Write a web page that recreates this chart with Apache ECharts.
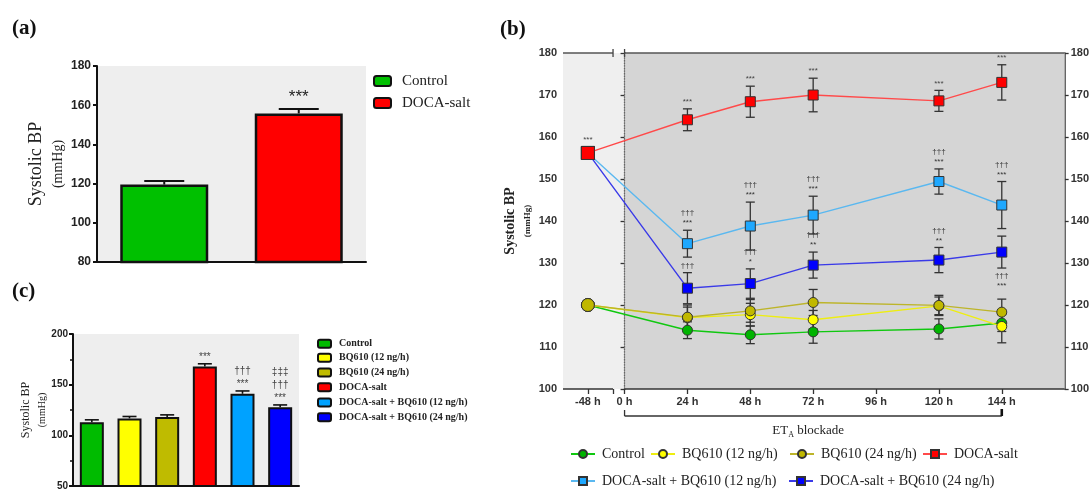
<!DOCTYPE html>
<html>
<head>
<meta charset="utf-8">
<script src="https://cdn.jsdelivr.net/npm/echarts@6/dist/echarts.min.js"></script>
<style>
html, body { margin: 0; padding: 0; background: #fff; }
#chart { width: 1092px; height: 491px; }
</style>
</head>
<body>
<div id="chart"></div>
<script>
// (a) baseline systolic BP
const groupsA = ['Control', 'DOCA-salt'];
const meanA = [119.5, 155.8];
const semA = [1.8, 2.3];
const sigA = ['', '***'];
const colorsA = ['#00c000', '#ff0000'];

// (c) after 6 days of treatment
const groupsC = ['Control', 'BQ610 (12 ng/h)', 'BQ610 (24 ng/h)', 'DOCA-salt',
  'DOCA-salt + BQ610 (12 ng/h)', 'DOCA-salt + BQ610 (24 ng/h)'];
const meanC = [113.0, 116.7, 118.0, 168.0, 141.0, 127.8];
const semC = [2.3, 1.9, 2.2, 2.6, 2.8, 2.2];
const sigC = ['', '', '', '***', '†††\n***', '‡‡‡\n†††\n***'];
const colorsC = ['#00bb00', '#ffff00', '#bfbb00', '#ff0000', '#00a2ff', '#0000ff'];

// (b) time course
const hours = [-48, 24, 48, 72, 120, 144];
const hourTicks = [-48, 0, 24, 48, 72, 96, 120, 144];
const control = [120.0, 114.0, 112.9, 113.6, 114.3, 115.7];
const controlSem = [0.5, 2.0, 2.1, 2.7, 2.4, 2.0];
const bq12 = [120.0, 117.0, 117.7, 116.5, 119.8, 114.9];
const bq12Sem = [0.5, 2.5, 2.7, 2.2, 2.1, 3.9];
const bq24 = [120.0, 117.1, 118.6, 120.6, 119.9, 118.3];
const bq24Sem = [0.5, 2.9, 2.7, 3.1, 2.4, 3.1];
const doca = [156.2, 164.1, 168.4, 170.0, 168.6, 173.0];
const docaSem = [1.5, 2.6, 3.7, 4.0, 2.5, 4.2];
const docaBq12 = [156.2, 134.6, 138.8, 141.4, 149.4, 143.8];
const docaBq12Sem = [1.0, 3.2, 5.7, 4.5, 3.0, 5.6];
const docaBq24 = [156.2, 124.0, 125.1, 129.5, 130.7, 132.6];
const docaBq24Sem = [1.0, 3.7, 3.5, 3.1, 3.0, 3.8];
const docaSig = ['***', '***', '***', '***', '***', '***'];
const docaBq12Sig = ['', '†††\n***', '†††\n***', '†††\n***', '†††\n***', '†††\n***'];
const docaBq24Sig = ['', '†††', '†††\n*', '†††\n**', '†††\n**', '†††\n***'];
const docaBq24SigBelow = [0, 0, 0, 0, 0, 1];

// broken time axis: -48 h sits in the small pre-treatment slot
const X_MIN = -23.5, X_MAX = 168, SLOT_48 = -14, BREAK_AT = -4.4;
const pos = h => (h < 0 ? SLOT_48 : h);

const SERIF = 'Liberation Serif';
const SANS = 'Liberation Sans';

// each panel gets its own series names so every legend finds its own series
const tag = (p, n) => p + ':' + n;
const untag = n => n.replace(/^[abc]:/, '');

const chart = echarts.init(document.getElementById('chart'));

function errBars(xIdx, yIdx, xs, means, sems, sigs, o) {
  return {
    type: 'custom', xAxisIndex: xIdx, yAxisIndex: yIdx, z: o.z || 4,
    silent: true, animation: false,
    data: xs.map((x, i) => [x, means[i], sems[i]]),
    encode: { x: 0, y: 1 },
    renderItem(params, api) {
      const i = params.dataIndex;
      const x = api.value(0), m = api.value(1), e = api.value(2);
      const top = api.coord([x, m + e]);
      const bot = api.coord([x, o.upOnly ? m : m - e]);
      const w = o.cap / 2;
      const st = { stroke: o.color, lineWidth: o.lw };
      const ch = [
        { type: 'line', shape: { x1: top[0], y1: top[1], x2: bot[0], y2: bot[1] }, style: st },
        { type: 'line', shape: { x1: top[0] - w, y1: top[1], x2: top[0] + w, y2: top[1] }, style: st }
      ];
      if (!o.upOnly) {
        ch.push({ type: 'line', shape: { x1: bot[0] - w, y1: bot[1], x2: bot[0] + w, y2: bot[1] }, style: st });
      }
      const s = sigs && sigs[i];
      if (s) {
        const below = o.below && o.below[i];
        ch.push({
          type: 'text',
          style: {
            text: s, x: top[0], y: below ? bot[1] + 3 : top[1] - o.sigGap,
            align: 'center', verticalAlign: below ? 'top' : 'bottom',
            fontSize: o.sigSize, fontFamily: SANS, fontWeight: o.sigWeight || 'normal',
            fill: o.sigColor, lineHeight: o.sigLh
          }
        });
      }
      return { type: 'group', children: ch };
    }
  };
}

function timeLine(name, vals, fill, lineColor, symbol, z) {
  return {
    name: tag('b', name), type: 'line', xAxisIndex: 2, yAxisIndex: 2, z: z,
    data: hours.map((h, i) => [pos(h), vals[i]]),
    symbol, symbolSize: (v, p) => (p.dataIndex === 0 ? 13 : 10),
    itemStyle: { color: fill, borderColor: '#333', borderWidth: 1 },
    lineStyle: { color: lineColor, width: 1.4 },
    emphasis: { disabled: true }
  };
}

function legendAt(name, left, top, o) {
  return Object.assign({
    data: [name], left, top, padding: 0, selectedMode: false, formatter: untag
  }, o);
}

const legA = { itemWidth: 17, itemHeight: 10, textStyle: { fontFamily: SERIF, fontSize: 15, color: '#222', padding: [0, 0, 0, 6] } };
const legC = { itemWidth: 13, itemHeight: 8, textStyle: { fontFamily: SERIF, fontSize: 10, fontWeight: 'bold', color: '#222', padding: [0, 0, 0, 3] } };
const legB = { itemWidth: 24, itemHeight: 10, textStyle: { fontFamily: SERIF, fontSize: 14, color: '#222', padding: [0, 0, 0, 2] } };
const rowsC = [344.3, 358.3, 373, 387.7, 403, 417.7];

const option = {
  animation: false,
  grid: [
    { left: 97, top: 66, width: 269, height: 196, show: true, backgroundColor: '#eeeeee', borderWidth: 0 },
    { left: 73, top: 334, width: 226, height: 153, show: true, backgroundColor: '#eeeeee', borderWidth: 0 },
    { left: 563, top: 53, width: 504, height: 336, show: true, backgroundColor: '#efefef', borderWidth: 0 }
  ],
  legend: [
    legendAt(tag('a', groupsA[0]), 373, 73.5, legA),
    legendAt(tag('a', groupsA[1]), 373, 95.5, legA),
    ...groupsC.map((g, i) => legendAt(tag('c', g), 317, rowsC[i] - 5.5, legC)),
    legendAt(tag('b', 'Control'), 570, 447, legB),
    legendAt(tag('b', 'BQ610 (12 ng/h)'), 650, 447, legB),
    legendAt(tag('b', 'BQ610 (24 ng/h)'), 789, 447, legB),
    legendAt(tag('b', 'DOCA-salt'), 922, 447, legB),
    legendAt(tag('b', 'DOCA-salt + BQ610 (12 ng/h)'), 570, 474, legB),
    legendAt(tag('b', 'DOCA-salt + BQ610 (24 ng/h)'), 788, 474, legB)
  ],
  xAxis: [
    { type: 'category', gridIndex: 0, data: groupsA,
      axisLine: { lineStyle: { color: '#111', width: 2 } },
      axisTick: { show: false }, axisLabel: { show: false } },
    { type: 'category', gridIndex: 1, data: groupsC,
      axisLine: { lineStyle: { color: '#111', width: 2 } },
      axisTick: { show: false }, axisLabel: { show: false } },
    { type: 'value', gridIndex: 2, min: X_MIN, max: X_MAX,
      splitLine: { show: false },
      axisLine: { show: false },
      axisTick: { show: true, length: 5, lineStyle: { color: '#333', width: 1.3 },
        customValues: hourTicks.map(pos).concat([BREAK_AT]) },
      axisLabel: { customValues: hourTicks.map(pos), margin: 7,
        formatter: v => (v < 0 ? hourTicks[0] : v) + ' h',
        fontFamily: SANS, fontWeight: 'bold', fontSize: 11, color: '#333' } }
  ],
  yAxis: [
    { type: 'value', gridIndex: 0, min: 80, max: 180, interval: 20,
      splitLine: { show: false },
      axisLine: { show: true, lineStyle: { color: '#111', width: 2 } },
      axisTick: { show: true, length: 4, lineStyle: { color: '#111', width: 2 } },
      axisLabel: { fontFamily: SANS, fontWeight: 'bold', fontSize: 12, color: '#222', margin: 6 },
      name: '{t|Systolic BP}\n{u|(mmHg)}', nameLocation: 'middle', nameRotate: 90, nameGap: 29,
      nameTextStyle: { rich: {
        t: { fontFamily: SERIF, fontSize: 18, color: '#222', lineHeight: 24 },
        u: { fontFamily: SERIF, fontSize: 14, color: '#222', lineHeight: 20 } } } },
    { type: 'value', gridIndex: 1, min: 50, max: 200, interval: 50,
      splitLine: { show: false },
      axisLine: { show: true, lineStyle: { color: '#111', width: 2 } },
      axisTick: { show: true, length: 4, lineStyle: { color: '#111', width: 2 } },
      minorTick: { show: true, splitNumber: 2, length: 3, lineStyle: { color: '#111', width: 1.5 } },
      axisLabel: { fontFamily: SANS, fontWeight: 'bold', fontSize: 10, color: '#222', margin: 5 },
      name: '{t|Systolic BP}\n{u|(mmHg)}', nameLocation: 'middle', nameRotate: 90, nameGap: 24,
      nameTextStyle: { rich: {
        t: { fontFamily: SERIF, fontSize: 12, color: '#222', lineHeight: 18 },
        u: { fontFamily: SERIF, fontSize: 10, color: '#222', lineHeight: 14 } } } },
    { type: 'value', gridIndex: 2, min: 100, max: 180, interval: 10,
      splitLine: { show: false },
      axisLine: { show: true, lineStyle: { color: '#333', width: 1.5 } },
      axisTick: { show: true, length: 4, lineStyle: { color: '#333', width: 1.3 } },
      axisLabel: { fontFamily: SANS, fontWeight: 'bold', fontSize: 11, color: '#333', margin: 6 },
      name: '{t|Systolic BP}\n{u|(mmHg)}', nameLocation: 'middle', nameRotate: 90, nameGap: 28,
      nameTextStyle: { rich: {
        t: { fontFamily: SERIF, fontSize: 14, fontWeight: 'bold', color: '#222', lineHeight: 22 },
        u: { fontFamily: SERIF, fontSize: 9, fontWeight: 'bold', color: '#222', lineHeight: 14 } } } },
    { type: 'value', gridIndex: 2, position: 'right', min: 100, max: 180, interval: 10,
      splitLine: { show: false },
      axisLine: { show: true, lineStyle: { color: '#333', width: 1.5 } },
      axisTick: { show: true, length: 4, lineStyle: { color: '#333', width: 1.3 } },
      axisLabel: { fontFamily: SANS, fontWeight: 'bold', fontSize: 11, color: '#333', margin: 6 } }
  ],
  series: [
    // (a)
    ...groupsA.map((g, i) => ({
      name: tag('a', g), type: 'bar', xAxisIndex: 0, yAxisIndex: 0, barWidth: 88, barGap: '-100%', z: 2,
      data: meanA.map((v, j) => (j === i ? v : '-')),
      itemStyle: { color: colorsA[i], borderColor: '#111', borderWidth: 2.5 }
    })),
    errBars(0, 0, groupsA.map((g, i) => i), meanA, semA, sigA,
      { upOnly: true, cap: 40, color: '#111', lw: 2, sigGap: 3, sigSize: 17, sigLh: 18, sigColor: '#222', z: 5 }),
    // (c)
    ...groupsC.map((g, i) => ({
      name: tag('c', g), type: 'bar', xAxisIndex: 1, yAxisIndex: 1, barWidth: 24, barGap: '-100%', z: 2,
      data: meanC.map((v, j) => (j === i ? v : '-')),
      itemStyle: { color: colorsC[i], borderColor: '#111', borderWidth: 2 }
    })),
    errBars(1, 1, groupsC.map((g, i) => i), meanC, semC, sigC,
      { upOnly: true, cap: 14, color: '#111', lw: 1.6, sigGap: 0, sigSize: 10, sigLh: 13, sigColor: '#444', z: 5 }),
    // (b) background regions
    {
      type: 'line', xAxisIndex: 2, yAxisIndex: 2, z: 1, silent: true, data: [],
      markArea: { silent: true, itemStyle: { color: '#d5d5d5' },
        data: [[{ coord: [0, 100] }, { coord: [X_MAX, 180] }]] },
      markLine: { silent: true, symbol: ['none', 'none'], label: { show: false },
        lineStyle: { color: '#666', type: 'dotted', width: 1.3 },
        data: [{ xAxis: 0 }] }
    },
    errBars(2, 2, hours.map(pos), control, controlSem, null, { cap: 9, color: '#333', lw: 1.3, z: 4 }),
    errBars(2, 2, hours.map(pos), bq12, bq12Sem, null, { cap: 9, color: '#333', lw: 1.3, z: 4 }),
    errBars(2, 2, hours.map(pos), bq24, bq24Sem, null, { cap: 9, color: '#333', lw: 1.3, z: 4 }),
    errBars(2, 2, hours.map(pos), docaBq12, docaBq12Sem, docaBq12Sig,
      { cap: 9, color: '#333', lw: 1.3, sigGap: 2, sigSize: 8, sigLh: 10, sigColor: '#333', z: 4 }),
    errBars(2, 2, hours.map(pos), docaBq24, docaBq24Sem, docaBq24Sig,
      { cap: 9, color: '#333', lw: 1.3, sigGap: 2, sigSize: 8, sigLh: 10, sigColor: '#333', below: docaBq24SigBelow, z: 4 }),
    errBars(2, 2, hours.map(pos), doca, docaSem, docaSig,
      { cap: 9, color: '#333', lw: 1.3, sigGap: 2, sigSize: 8, sigLh: 10, sigColor: '#444', z: 4 }),
    timeLine('Control', control, '#00b400', '#10c810', 'circle', 6),
    timeLine('BQ610 (12 ng/h)', bq12, '#ffff00', '#eeee10', 'circle', 7),
    timeLine('BQ610 (24 ng/h)', bq24, '#c0b800', '#bdb52a', 'circle', 8),
    timeLine('DOCA-salt + BQ610 (12 ng/h)', docaBq12, '#1ea8ff', '#5ab8f0', 'rect', 9),
    timeLine('DOCA-salt + BQ610 (24 ng/h)', docaBq24, '#0000ff', '#3a3ae8', 'rect', 10),
    timeLine('DOCA-salt', doca, '#ff0000', '#ff4a4a', 'rect', 11)
  ]
};

chart.setOption(option);

// broken-axis frame, bracket and panel letters
const P = v => chart.convertToPixel({ gridIndex: 2 }, v);
const seg = (a, b, color, w) => ({ type: 'line', silent: true, z: 20,
  shape: { x1: a[0], y1: a[1], x2: b[0], y2: b[1] }, style: { stroke: color, lineWidth: w } });
const g = [];
[100, 180].forEach(yv => {
  const c = yv === 180 ? '#555' : '#333';
  g.push(seg(P([X_MIN, yv]), P([BREAK_AT, yv]), c, 1.5));
  g.push(seg(P([0, yv]), P([X_MAX, yv]), c, 1.5));
});
[BREAK_AT, 0].forEach(xv => {
  const p = P([xv, 180]);
  g.push(seg([p[0], p[1] - 4], [p[0], p[1] + 4], '#444', 1.3));
});
const b0 = P([0, 100]), b1 = P([hourTicks[hourTicks.length - 1], 100]);
const by = b0[1] + 27;
g.push(seg([b0[0], by], [b1[0], by], '#333', 1.5));
g.push(seg([b0[0], by - 6], [b0[0], by], '#333', 1.3));
g.push(seg([b1[0], by - 7], [b1[0], by], '#111', 2.6));
g.push({ type: 'text', silent: true, z: 20, style: {
  text: '{a|ET}{s|A}{a| blockade}', x: (b0[0] + b1[0]) / 2 - 5, y: by + 15, align: 'center', verticalAlign: 'middle',
  rich: { a: { fontFamily: SERIF, fontSize: 13, fill: '#222' },
          s: { fontFamily: SERIF, fontSize: 8, fill: '#222', verticalAlign: 'top', padding: [7, 0, 0, 0] } } } });
[['(a)', 12, 29], ['(b)', 500, 30], ['(c)', 12, 292]].forEach(([t, x, y]) => {
  g.push({ type: 'text', silent: true, z: 20, style: {
    text: t, x, y, verticalAlign: 'middle', fontFamily: SERIF, fontSize: 21, fontWeight: 'bold', fill: '#111' } });
});
chart.setOption({ graphic: g });
</script>
</body>
</html>
